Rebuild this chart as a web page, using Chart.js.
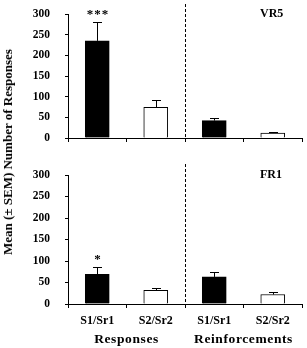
<!DOCTYPE html>
<html>
<head>
<meta charset="utf-8">
<script src="https://cdn.jsdelivr.net/npm/chart.js@4"></script>
<style>
  body { margin: 0; background: #fff; }
  #wrap { position: relative; width: 307px; height: 348px; }
  #top, #bot { position: absolute; left: 0; }
  #top { top: 0; }
  #bot { top: 160px; }
  #ytitle {
    position: absolute; left: 8px; top: 152px;
    transform: translate(-50%, -50%) rotate(-90deg);
    white-space: nowrap;
    font: bold 13px "Liberation Serif", serif;
    color: #000;
  }
</style>
</head>
<body>
<div id="wrap">
  <div id="top"><canvas id="c1" width="307" height="150"></canvas></div>
  <div id="bot"><canvas id="c2" width="307" height="188"></canvas></div>
  <div id="ytitle">Mean (± SEM) Number of Responses</div>
</div>
<script>
// categories
const cats = ['S1/Sr1', 'S2/Sr2', 'S1/Sr1', 'S2/Sr2'];
const groups = ['Responses', 'Reinforcements'];
const yTicks = [0, 50, 100, 150, 200, 250, 300];

// VR5 panel
const vr5Mean = [235, 74, 42, 12];
const vr5Sem = [45, 18, 7, 3];
const vr5Stars = ['***', '', '', ''];

// FR1 panel
const fr1Mean = [69, 32, 63, 22];
const fr1Sem = [16, 5, 11, 5];
const fr1Stars = ['*', '', '', ''];

const barColors = ['#000', '#fff', '#000', '#fff'];
const serif = '"Liberation Serif", serif';

// error bars, asterisks, dashed divider, panel label
const extras = {
  id: 'extras',
  afterDatasetsDraw(chart, args, opts) {
    const ctx = chart.ctx;
    const x = chart.scales.x, y = chart.scales.y;
    const meta = chart.getDatasetMeta(0);
    ctx.save();
    ctx.strokeStyle = '#000';
    ctx.lineWidth = 1;
    meta.data.forEach((bar, i) => {
      const top = Math.round(y.getPixelForValue(opts.mean[i] + opts.sem[i])) + 0.5;
      const base = y.getPixelForValue(opts.mean[i]);
      const bx = Math.round(bar.x) + 0.5;
      ctx.beginPath();
      ctx.moveTo(bx, base);
      ctx.lineTo(bx, top);
      ctx.moveTo(bx - 4.5, top);
      ctx.lineTo(bx + 4.5, top);
      ctx.stroke();
      if (opts.stars[i]) {
        ctx.fillStyle = '#000';
        ctx.font = 'bold 13px ' + serif;
        ctx.letterSpacing = '1px';
        ctx.textAlign = 'center';
        ctx.textBaseline = 'middle';
        ctx.fillText(opts.stars[i], bx + 0.5, top - 8);
        ctx.letterSpacing = '0px';
      }
    });
    // divider between groups
    const dx = Math.round(x.getPixelForValue(1.5)) + 0.5;
    ctx.setLineDash([3, 2]);
    ctx.beginPath();
    ctx.moveTo(dx, 4);
    ctx.lineTo(dx, chart.chartArea.bottom);
    ctx.stroke();
    ctx.setLineDash([]);
    // panel label
    ctx.fillStyle = '#000';
    ctx.font = 'bold 12px ' + serif;
    ctx.textAlign = 'left';
    ctx.textBaseline = 'middle';
    ctx.fillText(opts.label, 260, chart.chartArea.top);
    // group labels
    if (opts.groups) {
      ctx.font = 'bold 13.5px ' + serif;
      ctx.letterSpacing = '0.6px';
      ctx.textAlign = 'center';
      ctx.fillText(groups[0], x.getPixelForValue(0.5), chart.height - 8);
      ctx.fillText(groups[1], x.getPixelForValue(2.5), chart.height - 8);
      ctx.letterSpacing = '0px';
    }
    ctx.restore();
  }
};

function makeChart(id, mean, sem, stars, label, pad, showLabels, xh) {
  return new Chart(document.getElementById(id), {
    type: 'bar',
    data: {
      labels: cats,
      datasets: [{
        data: mean,
        backgroundColor: barColors,
        borderColor: '#000',
        borderWidth: 1,
        barThickness: 24
      }]
    },
    plugins: [extras],
    options: {
      responsive: false,
      animation: false,
      layout: { padding: { top: pad, right: 5, left: 0, bottom: 0 } },
      plugins: {
        legend: { display: false },
        tooltip: { enabled: false },
        extras: { mean: mean, sem: sem, stars: stars, label: label, groups: showLabels }
      },
      scales: {
        x: {
          grid: { drawOnChartArea: false, drawTicks: true, tickLength: 4, color: '#000', offset: true },
          border: { color: '#000', width: 1 },
          ticks: {
            display: showLabels, color: '#000', padding: 6,
            font: { family: serif, weight: 'bold', size: 12 }
          },
          afterFit: (s) => { s.height = xh; }
        },
        y: {
          min: 0, max: 300,
          afterBuildTicks: (s) => { s.ticks = yTicks.map(v => ({ value: v })); },
          grid: { drawOnChartArea: false, drawTicks: true, tickLength: 3, color: '#000' },
          border: { color: '#000', width: 1 },
          ticks: {
            color: '#000', padding: 15,
            font: { family: serif, weight: 'bold', size: 11.5 }
          },
          afterFit: (s) => {
            s.width = 68;
            s.paddingTop = 0;
            s.paddingBottom = 0;
          }
        }
      }
    }
  });
}

makeChart('c1', vr5Mean, vr5Sem, vr5Stars, 'VR5', 14, false, 12);
makeChart('c2', fr1Mean, fr1Sem, fr1Stars, 'FR1', 15, true, 44);
</script>
</body>
</html>
